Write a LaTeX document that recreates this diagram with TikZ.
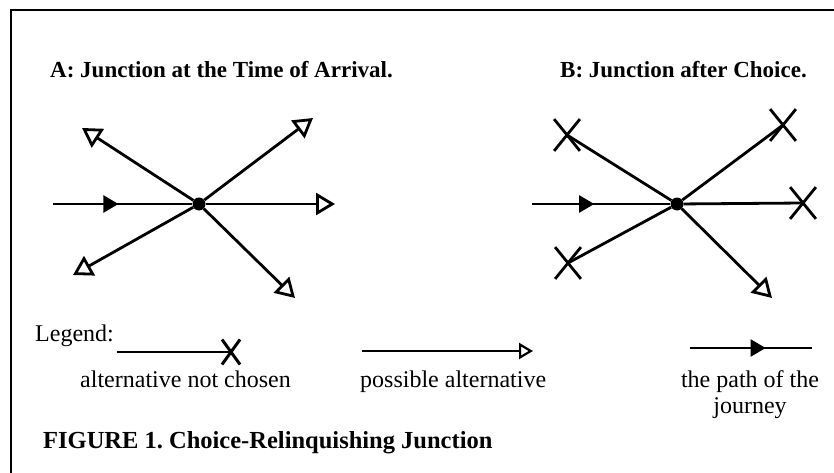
\documentclass[tikz,border=0pt]{standalone}
\usepackage{fontspec}
\setmainfont{Liberation Serif}
\usetikzlibrary{arrows.meta}
\usetikzlibrary{decorations.markings}
\usetikzlibrary{shapes.misc}

\begin{document}
\frenchspacing
\begin{tikzpicture}[
    x=1pt, y=-1pt,
    road/.style={line width=2.8pt},
    entry/.style={line width=2.2pt, postaction={decorate},
        decoration={markings, mark=at position #1 with {\arrow{Triangle[length=15pt, width=17pt]}}}},
    entry/.default=0.47,
    opentip/.style={-{Triangle[open, length=19pt, width=22pt]}},
    hub/.style={circle, fill, inner sep=0pt, minimum size=13pt},
    xmark/.style={cross out, draw, line width=2.8pt, inner sep=0pt, minimum width=23pt, minimum height=29pt},
    heading/.style={font=\fontsize{23}{26}\selectfont\bfseries, anchor=base west, inner sep=0pt},
    legendtext/.style={font=\fontsize{24}{26}\selectfont, inner sep=0pt},
]
    \useasboundingbox (0,0) rectangle (834,473);
    \draw[line width=2.8pt] (834,10) -- (11,10) -- (11,473);

    % --- A: at the time of arrival ---
    \node[heading] (titlea) at (50,78) {A: Junction at the Time of Arrival.};
    \node[hub] (ca) at (199,204) {};
    \coordinate (ain) at (53,204);
    \coordinate (aul) at (82,128);
    \coordinate (aur) at (313,118);
    \coordinate (ar) at (335,204);
    \coordinate (all) at (73,275);
    \coordinate (alr) at (295,298);
    \draw[entry=0.47] (ain) -- (ca);
    \foreach \e in {aul, aur, ar, all, alr} {
        \draw[road, opentip] (ca) -- (\e);
    }

    % --- B: after choice ---
    \node[heading] (titleb) at (560,78) {B: Junction after Choice.};
    \node[hub] (cb) at (677,204) {};
    \coordinate (bin) at (532,204);
    \node[xmark] (bul) at (567,135) {};
    \node[xmark] (bur) at (783,125) {};
    \node[xmark] (br) at (803,203) {};
    \node[xmark] (bll) at (568,263) {};
    \coordinate (blr) at (772,298);
    \draw[entry=0.45] (bin) -- (cb);
    \foreach \e in {bul, bur, br, bll} {
        \draw[road] (cb) -- (\e.center);
    }
    \draw[road, opentip] (cb) -- (blr);

    % --- legend ---
    \node[legendtext, anchor=base west] (legend) at (35,341) {Legend:};
    \coordinate (notfrom) at (117,352);
    \node[xmark, minimum width=15pt, minimum height=22pt, line width=3pt] (notto) at (231,352) {};
    \draw[line width=2.2pt] (notfrom) -- (notto.center);
    \node[legendtext, anchor=base west] (nottext) at (80,387) {alternative not chosen};

    \coordinate (posfrom) at (362,351);
    \coordinate (posto) at (533,351);
    \draw[line width=2.2pt, -{Triangle[open, length=14pt, width=16pt]}] (posfrom) -- (posto);
    \node[legendtext, anchor=base west] (postext) at (360,387) {possible alternative};

    \coordinate (pathfrom) at (690,348);
    \coordinate (pathto) at (812,348);
    \draw[entry=0.62] (pathfrom) -- (pathto);
    \node[legendtext, anchor=north, align=center] (pathtext) at (750,370) {the path of the\\journey};

    % --- caption ---
    \node[font=\fontsize{24.5}{28}\selectfont\bfseries, anchor=base west, inner sep=0pt] (caption) at (43,448) {FIGURE 1. Choice-Relinquishing Junction};
\end{tikzpicture}
\end{document}
